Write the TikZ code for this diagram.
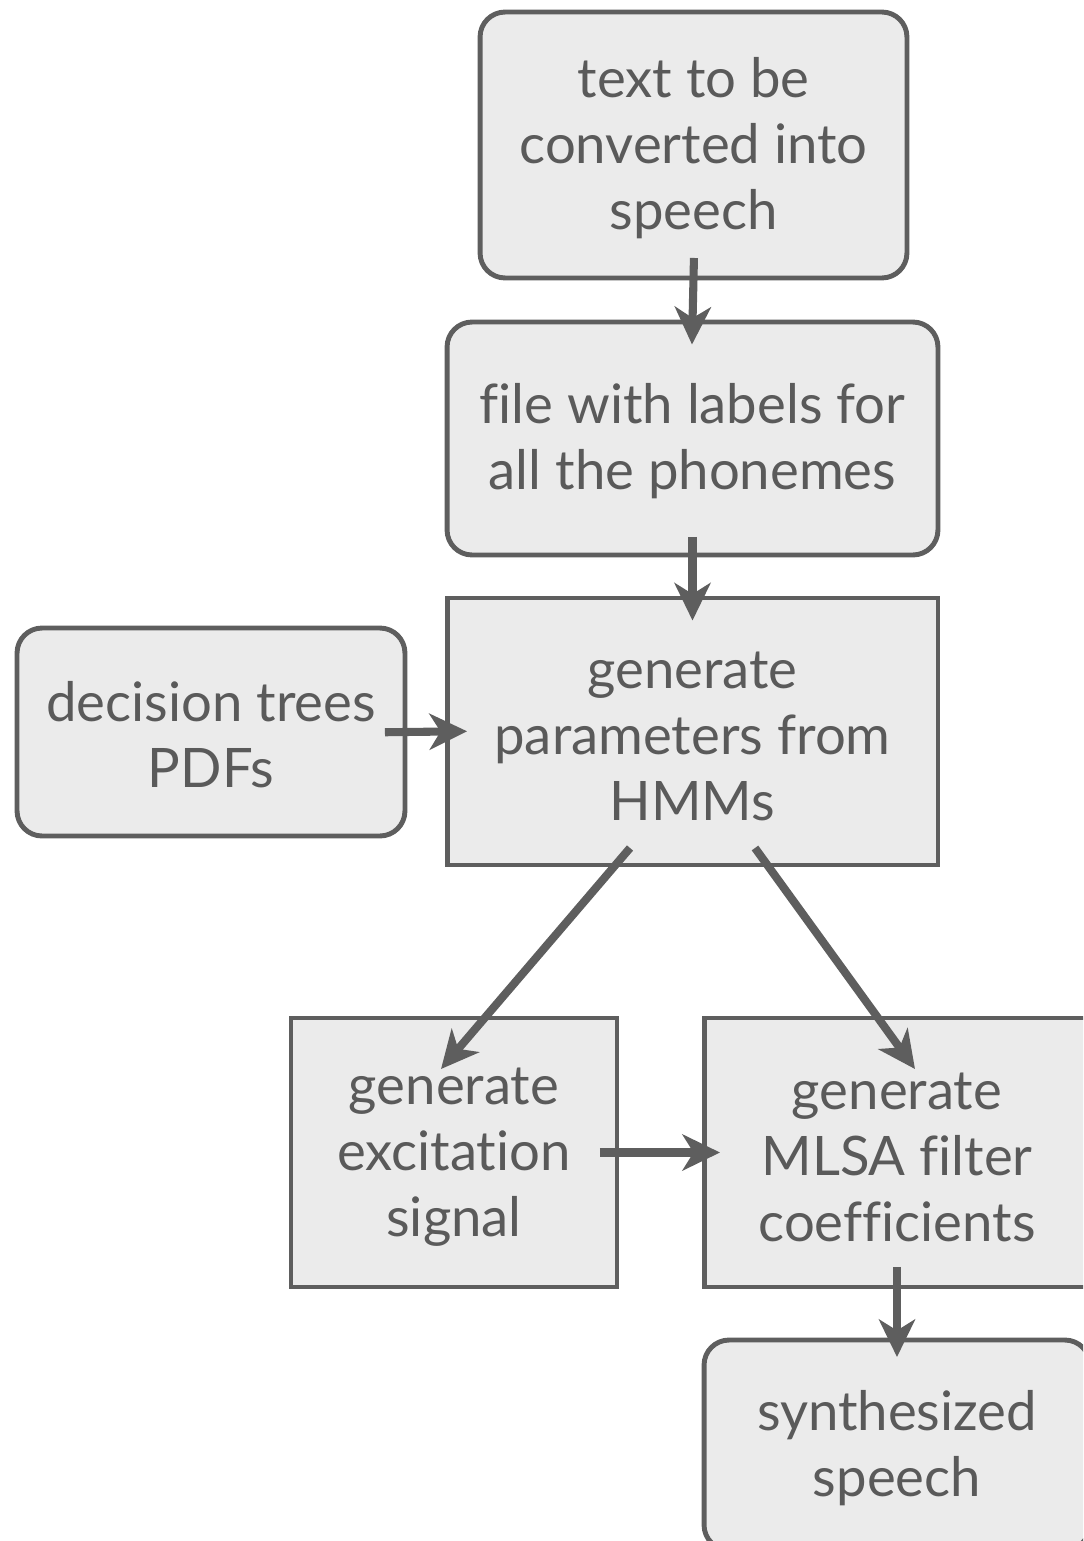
\documentclass[tikz,border=0pt]{standalone}
\usepackage{fontspec}
\setmainfont[Ligatures=NoCommon]{Lato}
\usetikzlibrary{arrows.meta, positioning, calc}

\definecolor{boxgray}{HTML}{EBEBEB}
\definecolor{linegray}{HTML}{5E5E5E}
\definecolor{textgray}{HTML}{5A5A5A}

\begin{document}
\begin{tikzpicture}[
    x=0.02cm, y=-0.02cm,
    box/.style={rectangle, draw=linegray, fill=boxgray, line width=2.8pt,
    inner sep=0pt, outer sep=0pt, align=center, text=textgray,
    font=\fontsize{31}{37.5}\selectfont},
    roundbox/.style={box, rounded corners=0.5cm},
    arrow/.style={-{Stealth[length=0.75cm, width=0.72cm, inset=0.22cm]},
    line width=4.6pt, draw=linegray, shorten <=-0.4cm, shorten >=-0.45cm} ]

    \clip (0,0) rectangle (1083,1541);

    % Main column
    \node[roundbox, minimum width=8.54cm, minimum height=5.32cm] (txt)
        at (693.5,145) {\strut text to be\\converted into\\speech};
    \node[roundbox, minimum width=9.82cm, minimum height=4.66cm] (lab)
        at (692.5,438.5) {\strut file with labels for\\all the phonemes};
    \node[box, minimum width=9.82cm, minimum height=5.34cm] (gen)
        at (692.5,731.5) {\strut generate\\parameters from\\HMMs};

    % Side input
    \node[roundbox, minimum width=7.76cm, minimum height=4.16cm] (dec)
        at (211,732) {\strut decision trees\\PDFs};

    % Lower row
    \node[box, minimum width=6.52cm, minimum height=5.38cm] (exc)
        at (454,1152.5) {\strut generate\\excitation\\signal};
    \node[box, minimum width=7.72cm, minimum height=5.38cm] (mlsa)
        at (897,1152.5) {\strut generate\\MLSA filter\\coefficients};
    \node[roundbox, minimum width=7.72cm, minimum height=4.2cm] (syn)
        at (897,1445) {\strut synthesized\\speech};

    % Arrows
    \draw[arrow] (txt.south) -- (lab.north);
    \draw[arrow, shorten <=-0.36cm] (lab.south) -- (gen.north);
    \draw[arrow, shorten >=-0.4cm] (dec.east) -- (gen.west);
    \draw[arrow, shorten <=0pt, shorten >=0pt]
        ([xshift=-1.25cm, yshift=0.34cm]gen.south) -- ([xshift=-0.26cm, yshift=-1.02cm]exc.north);
    \draw[arrow, shorten <=0pt, shorten >=0pt]
        ([xshift=1.25cm, yshift=0.34cm]gen.south) -- ([xshift=0.36cm, yshift=-1.02cm]mlsa.north);
    \draw[arrow, shorten <=-0.34cm, shorten >=-0.32cm] (exc.east) -- (mlsa.west);
    \draw[arrow, shorten >=-0.34cm] (mlsa.south) -- (syn.north);

  \end{tikzpicture}
\end{document}
